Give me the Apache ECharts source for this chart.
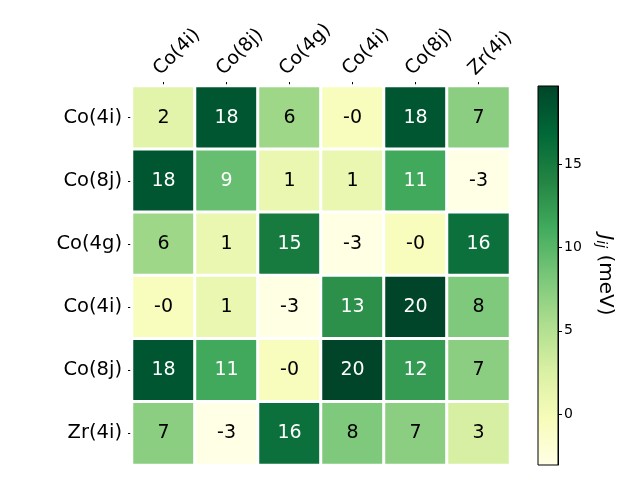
<!DOCTYPE html>
<html><head><meta charset="utf-8">
<script src="https://cdn.jsdelivr.net/npm/echarts@6/dist/echarts.min.js"></script>
<style>html,body{margin:0;padding:0;background:#fff}#c{width:640px;height:480px}</style>
</head><body><div id="c"></div>
<script>
const xLabels = ['Co(4i)','Co(8j)','Co(4g)','Co(4i)','Co(8j)','Zr(4i)'];
const yLabels = ['Co(4i)','Co(8j)','Co(4g)','Co(4i)','Co(8j)','Zr(4i)'];
const row0 = [1.8, 18.3, 6.2, -0.4, 18.3, 7.3];
const row1 = [18.3, 9.2, 1.0, 1.0, 11.3, -3.06];
const row2 = [6.2, 1.0, 15.0, -2.9, -0.4, 16.0];
const row3 = [-0.4, 1.0, -2.9, 13.2, 19.7, 8.0];
const row4 = [18.3, 11.3, -0.4, 19.7, 12.3, 7.3];
const row5 = [7.3, -3.06, 16.0, 8.0, 7.3, 2.8];
const cbTicks = [0, 5, 10, 15];
const vmin = -3.06, vmax = 19.7;
const YlGn = ['#ffffe5','#f7fcb9','#d9f0a3','#addd8e','#78c679','#41ab5d','#238443','#006837','#004529'];

const rows = [row0,row1,row2,row3,row4,row5];
const data = [];
rows.forEach((r, yi) => r.forEach((v, xi) => {
  const t = (v - vmin) / (vmax - vmin);
  data.push({value: [xi, yi, v], label: {color: t > 0.5 ? '#ffffff' : '#000000'}});
}));
function fmt(p) {
  let s = Math.round(p.value[2]);
  if (s === 0 && p.value[2] < 0) return '-0';
  return String(s);
}
const font = 'DejaVu Sans';
const chart = echarts.init(document.getElementById('c'), null, {renderer: 'canvas'});
chart.setOption({
  animation: false,
  backgroundColor: '#ffffff',
  textStyle: {fontFamily: font},
  grid: [
    {left: 132, right: 130, top: 86, bottom: 15},
    {left: 538, right: 82, top: 86, bottom: 15}
  ],
  xAxis: [
    {type: 'category', data: xLabels, position: 'top', gridIndex: 0,
     axisLine: {show: false}, splitLine: {show: false},
     axisTick: {show: true, alignWithLabel: true, length: 4, lineStyle: {color: '#000'}},
     axisLabel: {rotate: -45, fontSize: 19, color: '#000', fontFamily: font, margin: 7, verticalAlign: 'bottom'}},
    {type: 'category', data: [''], gridIndex: 1, show: false}
  ],
  yAxis: [
    {type: 'category', data: yLabels, inverse: true, gridIndex: 0,
     axisLine: {show: false}, splitLine: {show: false},
     axisTick: {show: true, alignWithLabel: true, length: 4, lineStyle: {color: '#000'}},
     axisLabel: {fontSize: 19.5, color: '#000', fontFamily: font, margin: 10}},
    {type: 'value', gridIndex: 1, min: vmin, max: vmax, position: 'right',
     axisLine: {show: true, onZero: false, lineStyle: {color: '#000'}},
     splitLine: {show: false},
     axisTick: {show: true, length: 4, customValues: cbTicks, lineStyle: {color: '#000'}},
     axisLabel: {show: true, fontSize: 14, color: '#000', fontFamily: font, margin: 6,
       showMinLabel: false, showMaxLabel: false,
       formatter: function (v) { return cbTicks.indexOf(v) >= 0 ? String(v) : ''; }}}
  ],
  visualMap: {show: false, seriesIndex: 0, min: vmin, max: vmax, inRange: {color: YlGn}},
  series: [
    {type: 'heatmap', xAxisIndex: 0, yAxisIndex: 0, data: data,
     itemStyle: {borderColor: '#ffffff', borderWidth: 3},
     label: {show: true, fontSize: 19, fontFamily: font, formatter: fmt},
     emphasis: {disabled: true}},
    {type: 'custom', xAxisIndex: 1, yAxisIndex: 1, data: [[0, vmin, vmax]],
     renderItem: function (params, api) {
       const top = api.coord([0, api.value(2)]);
       const bot = api.coord([0, api.value(1)]);
       const cs = params.coordSys;
       return {type: 'rect',
         shape: {x: cs.x, y: top[1], width: cs.width, height: bot[1] - top[1]},
         style: {fill: new echarts.graphic.LinearGradient(0, 1, 0, 0,
           YlGn.map((c, i) => ({offset: i / (YlGn.length - 1), color: c}))),
           stroke: '#000', lineWidth: 1}};
     }}
  ],
  graphic: [{
    type: 'text', x: 605, y: 275, rotation: -Math.PI / 2,
    style: {
      text: '{j|J}{s|ij} (meV)', textAlign: 'center', textVerticalAlign: 'middle',
      rich: {
        j: {fontSize: 20, fontStyle: 'italic', fontFamily: font, fill: '#000'},
        s: {fontSize: 14, fontStyle: 'italic', fontFamily: font, fill: '#000', verticalAlign: 'bottom', padding: [8,0,0,0]}
      },
      font: '20px DejaVu Sans', fill: '#000'
    }
  }]
});
</script></body></html>
